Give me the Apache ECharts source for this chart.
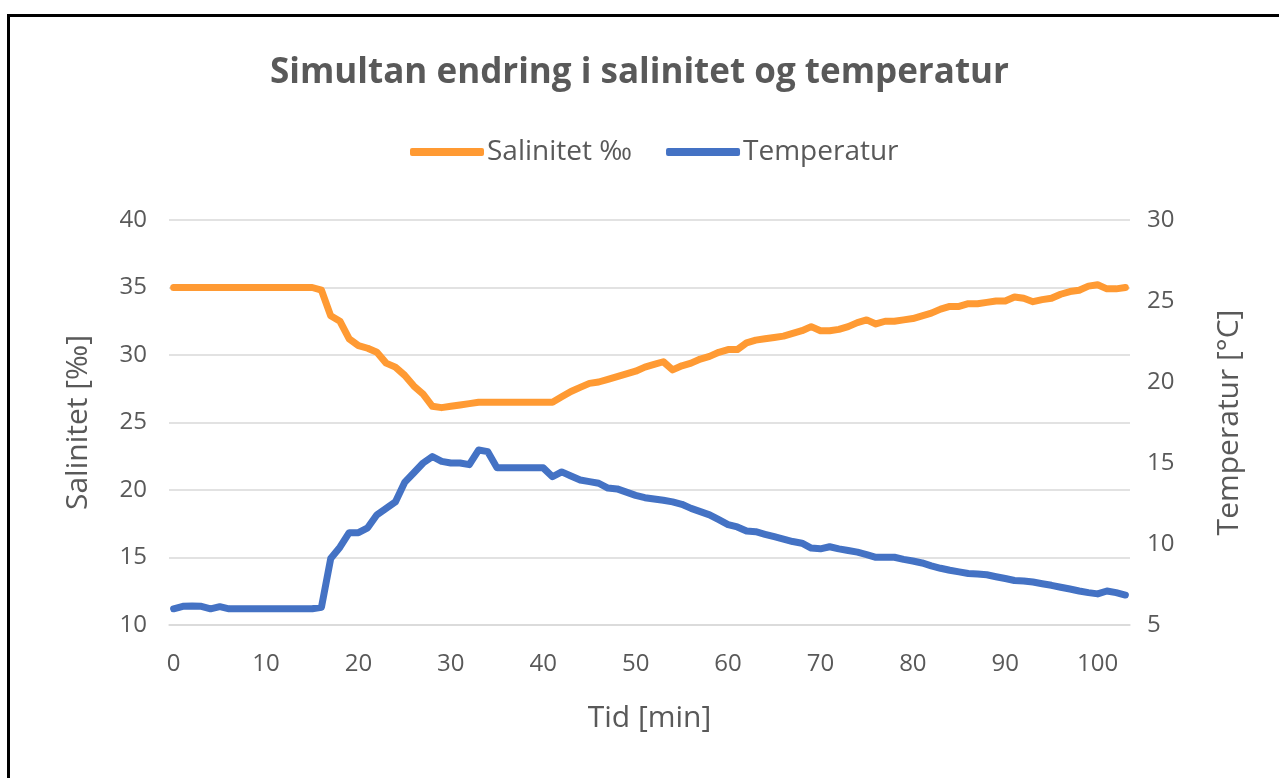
<!DOCTYPE html>
<html>
<head>
<meta charset="utf-8">
<script src="https://cdn.jsdelivr.net/npm/echarts@6/dist/echarts.min.js"></script>
<style>
html, body { margin: 0; padding: 0; background: #fff; }
#chart { position: absolute; left: 0; top: 0; width: 1279px; height: 778px; }
.frame { position: absolute; left: 7px; top: 14px; width: 1400px; height: 900px;
  border-left: 3px solid #000; border-top: 3px solid #000; pointer-events: none; }
</style>
</head>
<body>
<div id="chart"></div>
<div class="frame"></div>
<script>
// minutter 0..103
const minutes = Array.from({ length: 104 }, (_, i) => String(i));

// Salinitet ‰ (venstre akse)
const salinitet = [
  35.0, 35.0, 35.0, 35.0, 35.0, 35.0, 35.0, 35.0, 35.0, 35.0,
  35.0, 35.0, 35.0, 35.0, 35.0, 35.0, 34.8, 32.9, 32.5, 31.2,
  30.7, 30.5, 30.2, 29.4, 29.1, 28.5, 27.7, 27.1, 26.2, 26.1,
  26.2, 26.3, 26.4, 26.5, 26.5, 26.5, 26.5, 26.5, 26.5, 26.5,
  26.5, 26.5, 26.9, 27.3, 27.6, 27.9, 28.0, 28.2, 28.4, 28.6,
  28.8, 29.1, 29.3, 29.5, 28.9, 29.2, 29.4, 29.7, 29.9, 30.2,
  30.4, 30.4, 30.9, 31.1, 31.2, 31.3, 31.4, 31.6, 31.8, 32.1,
  31.8, 31.8, 31.9, 32.1, 32.4, 32.6, 32.3, 32.5, 32.5, 32.6,
  32.7, 32.9, 33.1, 33.4, 33.6, 33.6, 33.8, 33.8, 33.9, 34.0,
  34.0, 34.3, 34.2, 33.95, 34.1, 34.2, 34.5, 34.7, 34.8, 35.1,
  35.2, 34.9, 34.9, 35.0
];

// Temperatur °C (hoyre akse)
const temperatur = [
  6.0, 6.15, 6.17, 6.15, 6.0, 6.13, 6.0, 6.0, 6.0, 6.0,
  6.0, 6.0, 6.0, 6.0, 6.0, 6.0, 6.1, 9.1, 9.8, 10.7,
  10.7, 11.0, 11.8, 12.2, 12.6, 13.8, 14.4, 15.0, 15.4, 15.1,
  15.0, 15.0, 14.9, 15.8, 15.7, 14.7, 14.7, 14.7, 14.7, 14.7,
  14.7, 14.15, 14.45, 14.2, 13.95, 13.85, 13.75, 13.45, 13.4, 13.2,
  13.0, 12.86, 12.78, 12.7, 12.6, 12.45, 12.2, 12.0, 11.8, 11.5,
  11.2, 11.05, 10.8, 10.76, 10.6, 10.45, 10.3, 10.15, 10.05, 9.75,
  9.7, 9.83, 9.7, 9.6, 9.5, 9.35, 9.18, 9.18, 9.18, 9.05,
  8.95, 8.83, 8.65, 8.5, 8.38, 8.28, 8.18, 8.15, 8.1, 7.98,
  7.87, 7.75, 7.72, 7.65, 7.55, 7.45, 7.33, 7.22, 7.1, 7.0,
  6.92, 7.1, 7.0, 6.85
];

const textColor = '#595959';
const fontFam = '"Open Sans", "Noto Sans", sans-serif';

let chart = echarts.init(document.getElementById('chart'));
let option = {
  animation: false,
  textStyle: { fontFamily: fontFam },
  title: {
    text: 'Simultan endring i salinitet og temperatur',
    left: 'center',
    top: 51,
    textStyle: { color: textColor, fontSize: 35, fontWeight: 'bold', fontFamily: fontFam }
  },
  legend: {
    top: 133,
    left: 405,
    itemWidth: 74,
    itemHeight: 8,
    itemGap: 34,
    textStyle: { color: textColor, fontSize: 28, fontFamily: fontFam, padding: [0, 0, 0, -2] },
    data: [
      { name: 'Salinitet ‰', icon: 'roundRect' },
      { name: 'Temperatur', icon: 'roundRect' }
    ]
  },
  grid: { left: 169, right: 149, top: 220, bottom: 153 },
  xAxis: {
    type: 'category',
    data: minutes,
    boundaryGap: true,
    name: 'Tid [min]',
    nameLocation: 'middle',
    nameGap: 78,
    nameTextStyle: { color: textColor, fontSize: 30 },
    axisLine: { lineStyle: { color: '#D9D9D9', width: 1.5 } },
    axisTick: { show: false },
    axisLabel: { interval: 9, color: textColor, fontSize: 24, margin: 27 },
    splitLine: { show: false }
  },
  yAxis: [
    {
      type: 'value',
      min: 10, max: 40, interval: 5,
      name: 'Salinitet [‰]',
      nameLocation: 'middle',
      nameGap: 76,
      nameTextStyle: { color: textColor, fontSize: 30 },
      axisLine: { show: false },
      axisTick: { show: false },
      axisLabel: { color: textColor, fontSize: 24, margin: 22 },
      splitLine: { lineStyle: { color: '#D9D9D9', width: 1.5 } }
    },
    {
      type: 'value',
      min: 5, max: 30, interval: 5,
      name: 'Temperatur [°C]',
      nameLocation: 'middle',
      nameGap: 84,
      nameTextStyle: { color: textColor, fontSize: 30 },
      axisLine: { show: false },
      axisTick: { show: false },
      axisLabel: { color: textColor, fontSize: 24, margin: 17 },
      splitLine: { show: false }
    }
  ],
  series: [
    {
      name: 'Salinitet ‰',
      type: 'line',
      yAxisIndex: 0,
      data: salinitet,
      showSymbol: false,
      itemStyle: { color: '#FF9A33' },
      lineStyle: { color: '#FF9A33', width: 7, cap: 'round', join: 'round' }
    },
    {
      name: 'Temperatur',
      type: 'line',
      yAxisIndex: 1,
      data: temperatur,
      showSymbol: false,
      itemStyle: { color: '#4472C4' },
      lineStyle: { color: '#4472C4', width: 7, cap: 'round', join: 'round' }
    }
  ]
};
chart.setOption(option);
window.addEventListener('resize', () => {
  chart.resize()
})
</script>
</body>
</html>
